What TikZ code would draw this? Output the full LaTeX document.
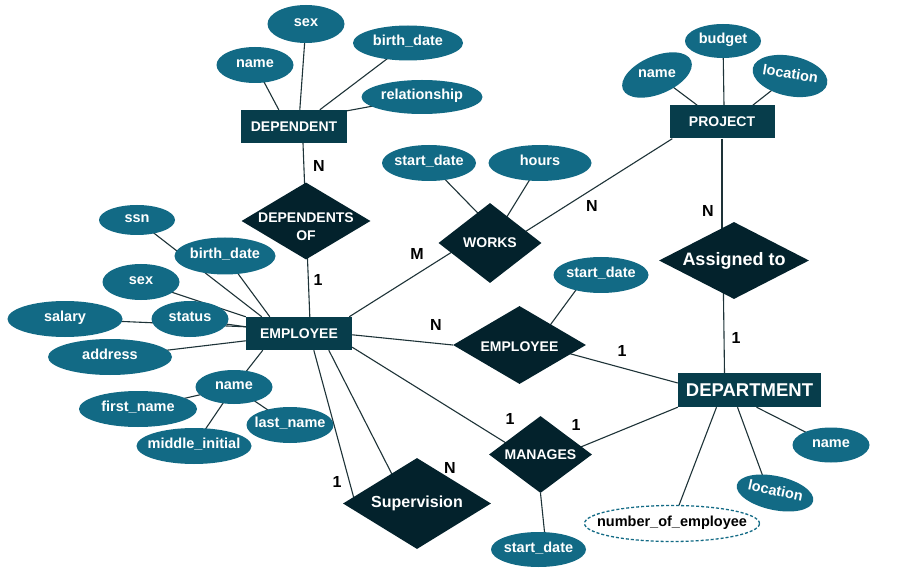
\documentclass[tikz,border=0pt]{standalone}
\usepackage{fontspec}
\setmainfont{Liberation Sans}
\usetikzlibrary{shapes.geometric,backgrounds}
\definecolor{attrc}{HTML}{126A85}
\definecolor{entc}{HTML}{073D4B}
\definecolor{relc}{HTML}{03222C}
\definecolor{linec}{HTML}{1E3338}
\tikzset{
 attr/.style={ellipse, fill=attrc, inner sep=0pt},
 atext/.style={text=white, font=\fontsize{14.5}{16}\selectfont\bfseries, inner sep=0pt, text height=9pt, text depth=4pt},
 ent/.style={rectangle, fill=entc, inner sep=0pt, text=white, font=\fontsize{14}{16}\selectfont\bfseries, minimum width=106, minimum height=33},
 rel/.style={diamond, fill=relc, inner sep=0pt},
 rtext/.style={text=white, font=\fontsize{14}{16}\selectfont\bfseries, align=center, inner sep=0pt},
 card/.style={font=\fontsize{16}{18}\selectfont\bfseries, text=black, inner sep=0pt},
 conn/.style={draw=linec, line width=1.1pt},
}
\begin{document}
\begin{tikzpicture}[x=1pt,y=-1pt]
\useasboundingbox (0,0) rectangle (900,588);
% entities
\node[ent] (dep) at (294,126.5) {DEPENDENT};
\node[ent, minimum width=105] (proj) at (722,122) {PROJECT};
\node[ent] (emp) at (299,333.5) {EMPLOYEE};
\node[ent, minimum width=143, minimum height=34, font=\fontsize{18.5}{20}\selectfont\bfseries] (dept) at (749.5,390) {DEPARTMENT};
% relationships
\node[rel, minimum width=129, minimum height=77, label={[rtext, yshift=-6pt]center:DEPENDENTS\\[2pt]OF}] (depof) at (306,221) {};
\node[rel, minimum width=103, minimum height=80, label={[rtext]center:WORKS}] (works) at (490,243) {};
\node[rel, minimum width=150, minimum height=77, label={[rtext, font=\fontsize{18}{20}\selectfont\bfseries]center:Assigned to}] (assigned) at (734,260.5) {};
\node[rel, minimum width=133, minimum height=78, label={[rtext, yshift=-2pt]center:EMPLOYEE}] (emprel) at (519.5,345) {};
\node[rel, minimum width=103, minimum height=77, label={[rtext]center:MANAGES}] (man) at (540.5,454.5) {};
\node[rel, minimum width=148, minimum height=91, label={[rtext, font=\fontsize{16}{18}\selectfont\bfseries]center:Supervision}] (sup) at (417,503.5) {};
% dependent attributes
\node[attr, minimum width=77, minimum height=36, label={[atext]center:name}] (dname) at (255,65) {};
\node[attr, minimum width=77, minimum height=38, label={[atext]center:sex}] (dsex) at (306,24) {};
\node[attr, minimum width=110, minimum height=35, label={[atext]center:birth\_date}] (dbd) at (408,43) {};
\node[attr, minimum width=121, minimum height=34, label={[atext]center:relationship}] (drel) at (422,97) {};
% project attributes
\node[attr, minimum width=74, minimum height=38, rotate=23] (pname) at (657,75) {};
\node[atext] (pnamet) at (657,75) {name};
\node[attr, minimum width=76, minimum height=34, label={[atext]center:budget}] (pbud) at (723,41) {};
\node[attr, minimum width=76, minimum height=40, rotate=-12] (ploc) at (790,76) {};
\node[atext, rotate=-9] (ploct) at (790,76) {location};
% works attributes
\node[attr, minimum width=94, minimum height=36, label={[atext]center:start\_date}] (wsd) at (429,163) {};
\node[attr, minimum width=103, minimum height=36, label={[atext]center:hours}] (whours) at (540,163) {};
% employee attributes
\node[attr, minimum width=76, minimum height=30, label={[atext]center:ssn}] (ssn) at (137,220) {};
\node[attr, minimum width=101, minimum height=37, label={[atext]center:birth\_date}] (ebd) at (225,256) {};
\node[attr, minimum width=77, minimum height=36, label={[atext]center:sex}] (esex) at (141,282) {};
\node[attr, minimum width=115, minimum height=36, label={[atext]center:salary}] (salary) at (65,319) {};
\node[attr, minimum width=77, minimum height=36, label={[atext]center:status}] (status) at (190,319) {};
\node[attr, minimum width=124, minimum height=36, label={[atext]center:address}] (address) at (110,357) {};
\node[attr, minimum width=77, minimum height=34, label={[atext]center:name}] (ename) at (234,387) {};
\node[attr, minimum width=118, minimum height=36, label={[atext]center:first\_name}] (fname) at (138,409) {};
\node[attr, minimum width=115, minimum height=36, label={[atext]center:middle\_initial}] (mname) at (194,446) {};
\node[attr, minimum width=87, minimum height=36, label={[atext]center:last\_name}] (lname) at (290,425) {};
% relationship attributes
\node[attr, minimum width=95, minimum height=36, label={[atext]center:start\_date}] (esd) at (601,275) {};
\node[attr, minimum width=95, minimum height=35, label={[atext]center:start\_date}] (msd) at (538.5,549.5) {};
% department attributes
\node[attr, minimum width=77, minimum height=35, label={[atext]center:name}] (dpname) at (831,445) {};
\node[attr, minimum width=78, minimum height=34, rotate=-12] (dploc) at (775,493) {};
\node[atext, rotate=-12] (dploct) at (775,493) {location};
\node[ellipse, draw=attrc, fill=white, dashed, line width=1.3pt, dash pattern=on 3pt off 2pt, minimum width=175, minimum height=36, inner sep=0pt, label={[atext, text=black]center:number\_of\_employee}] (noe) at (672,523.5) {};
% cardinalities
\node[card] (c1) at (319,166) {N};
\node[card] (c2) at (318,280) {1};
\node[card] (c3) at (417,254) {M};
\node[card] (c4) at (592,206) {N};
\node[card] (c5) at (436,325) {N};
\node[card] (c6) at (708,211) {N};
\node[card] (c7) at (736,338) {1};
\node[card] (c8) at (622,351) {1};
\node[card] (c9) at (510,419) {1};
\node[card] (c10) at (576,425) {1};
\node[card] (c11) at (337,482) {1};
\node[card] (c12) at (450,468) {N};
% connectors
\begin{scope}[on background layer]
\fill[white] (0,0) rectangle (900,588);
\draw[conn] (dname.center) -- ([xshift=38pt]dep.north west);
\draw[conn] (dsex.center) -- ([xshift=59pt]dep.north west);
\draw[conn] (dbd.center) -- ([xshift=79pt]dep.north west);
\draw[conn] (drel.center) -- ([yshift=-1pt]dep.north east);
\draw[conn] ([xshift=9pt]dep.south) -- (depof.center);
\draw[conn] (depof.center) -- ([xshift=64pt]emp.north west);
\draw[conn] (ssn.center) -- ([xshift=16pt]emp.north west);
\draw[conn] (ebd.center) -- ([xshift=24pt]emp.north west);
\draw[conn] (esex.center) -- (emp.north west);
\draw[conn] (salary.center) -- ([yshift=-10pt]emp.north west);
\draw[conn] (status.center) -- ([yshift=-10pt]emp.north west);
\draw[conn] (address.center) -- ([yshift=-24pt]emp.north west);
\draw[conn] (ename.center) -- ([xshift=17pt]emp.south west);
\draw[conn] (ename.center) -- (fname.center);
\draw[conn] (ename.center) -- (mname.center);
\draw[conn] (ename.center) -- (lname.center);
\draw[conn] ([xshift=68pt]emp.south west) -- ([xshift=12pt,yshift=2pt]sup.west);
\draw[conn] ([xshift=83pt]emp.south west) -- ([xshift=-3pt,yshift=-14pt]sup.center);
\draw[conn] ([yshift=3pt]emp.south east) -- ([xshift=-16pt]man.center);
\draw[conn] ([yshift=-18pt]emp.north east) -- (emprel.west);
\draw[conn] ([xshift=-3pt]emp.north east) -- ([yshift=15pt]works.center);
\draw[conn] (wsd.center) -- ([xshift=17pt]works.center);
\draw[conn] (whours.center) -- ([xshift=10pt,yshift=15pt]works.center);
\draw[conn] ([yshift=-11pt]works.center) -- ([xshift=3pt]proj.south west);
\draw[conn] (pname.center) -- ([xshift=28pt]proj.north west);
\draw[conn] (pbud.center) -- ([xshift=2pt]proj.north);
\draw[conn] (ploc.center) -- ([xshift=-22pt]proj.north east);
\draw[conn] (proj.south) -- (proj.south |- assigned.center);
\draw[conn] ([xshift=-11pt]assigned.center) -- ([xshift=-25pt]dept.north);
\draw[conn] ([xshift=-14pt]esd.center) -- ([xshift=16pt]emprel.center);
\draw[conn] ([yshift=5pt]emprel.center) -- ([yshift=7pt]dept.west);
\draw[conn] ([yshift=-9pt]man.center) -- (dept.south west);
\draw[conn] (man.south) -- ([xshift=6pt]msd.north);
\draw[conn] ([xshift=7pt]dept.south) -- (dpname.center);
\draw[conn] ([xshift=-12pt]dept.south) -- ([xshift=-6pt]dploc.center);
\draw[conn] ([xshift=-33pt]dept.south) -- (noe.center);
\end{scope}
\end{tikzpicture}
\end{document}
